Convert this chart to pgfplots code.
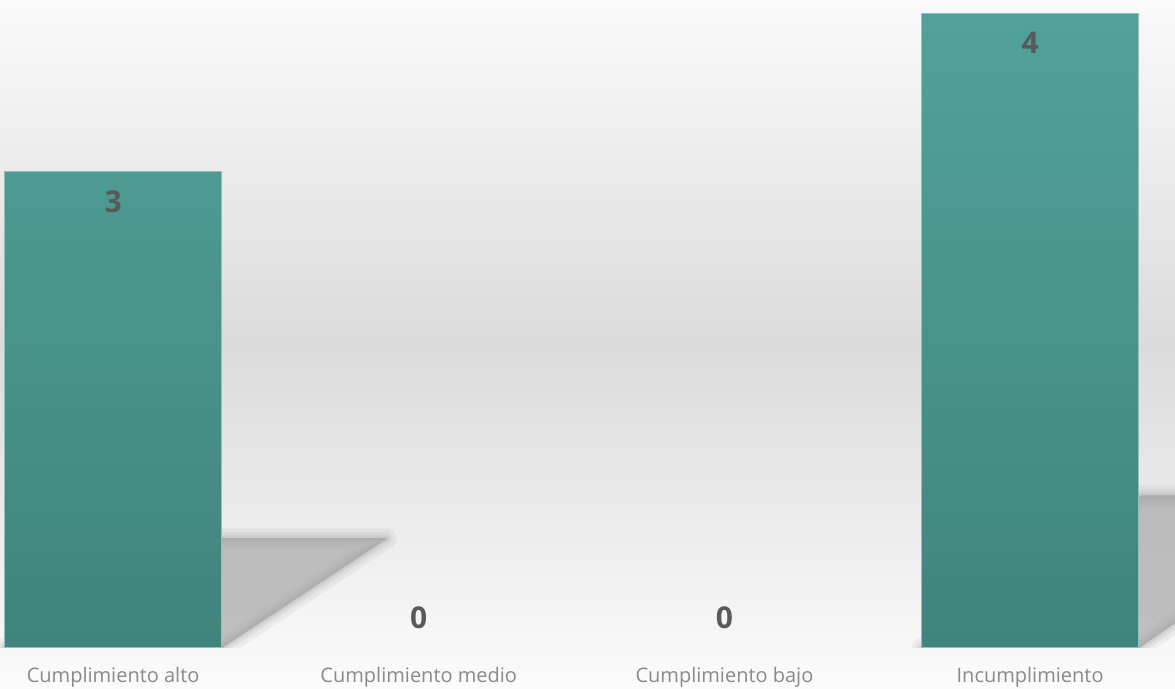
\documentclass[border=0pt]{standalone}
\usepackage{fontspec}
\setmainfont{Open Sans}
\usepackage{pgfplots}
\pgfplotsset{compat=1.18}
\definecolor{bartop}{HTML}{50A299}
\definecolor{barbot}{HTML}{40847C}
\definecolor{baredge}{HTML}{8FC2BC}
\definecolor{bgtop}{HTML}{FAFAFA}
\definecolor{bgmid}{HTML}{DBDBDB}
\definecolor{bgbot}{HTML}{FBFBFB}
\definecolor{shad}{HTML}{9E9E9E}
\definecolor{valcol}{HTML}{595959}
\definecolor{labcol}{HTML}{8A8A8A}
\tikzset{
  shA/.style={fill=shad, draw=shad, line join=round},
}
\newcommand{\shadows}[2]{%
  \filldraw[shA, opacity=#2, line width=#1]
    (axis cs:-0.355,0) -- (axis cs:0.355,0) -- (axis cs:0.895,0.69) -- (axis cs:0.185,0.69) -- cycle;
  \filldraw[shA, opacity=#2, line width=#1]
    (axis cs:2.645,0) -- (axis cs:3.355,0) -- (axis cs:4.075,0.96) -- (axis cs:3.365,0.96) -- cycle;
}
\begin{document}
\begin{tikzpicture}
\path[use as bounding box] (0,-20.5pt) rectangle (587.5pt,324pt);
\shade[top color=bgtop, bottom color=bgbot, middle color=bgmid] (0,-20.5pt) rectangle (587.5pt,324pt);
\begin{axis}[
  at={(0,0)}, anchor=south west,
  scale only axis, width=587.5pt, height=324pt,
  xmin=-0.37, xmax=3.474, ymin=0, ymax=4.082,
  ybar, bar width=0.71,
  axis line style={draw=none},
  xtick={0,1,2,3},
  xticklabels={Cumplimiento alto, Cumplimiento medio, Cumplimiento bajo, Incumplimiento},
  xticklabel style={anchor=base, yshift=-17.5pt, font=\fontsize{10}{12}\selectfont, text=labcol},
  major tick length=0pt,
  ytick=\empty,
  /pgf/number format/assume math mode=true,
]
\shadows{10pt}{0.12}
\shadows{6pt}{0.15}
\shadows{3pt}{0.2}
\shadows{0.5pt}{0.35}
\addplot[bar shift=0pt, draw=baredge, line width=0.5pt, top color=bartop, bottom color=barbot,
  nodes near coords, every node near coord/.style={anchor=center, yshift=-15pt, font=\bfseries\fontsize{15}{17}\selectfont, text=valcol}]
  coordinates {(0,3) (3,4)};
\addplot[bar shift=0pt, draw=none, fill=none,
  nodes near coords, every node near coord/.style={anchor=center, yshift=15pt, font=\bfseries\fontsize{15}{17}\selectfont, text=valcol}]
  coordinates {(1,0) (2,0)};
\end{axis}
\end{tikzpicture}
\end{document}
